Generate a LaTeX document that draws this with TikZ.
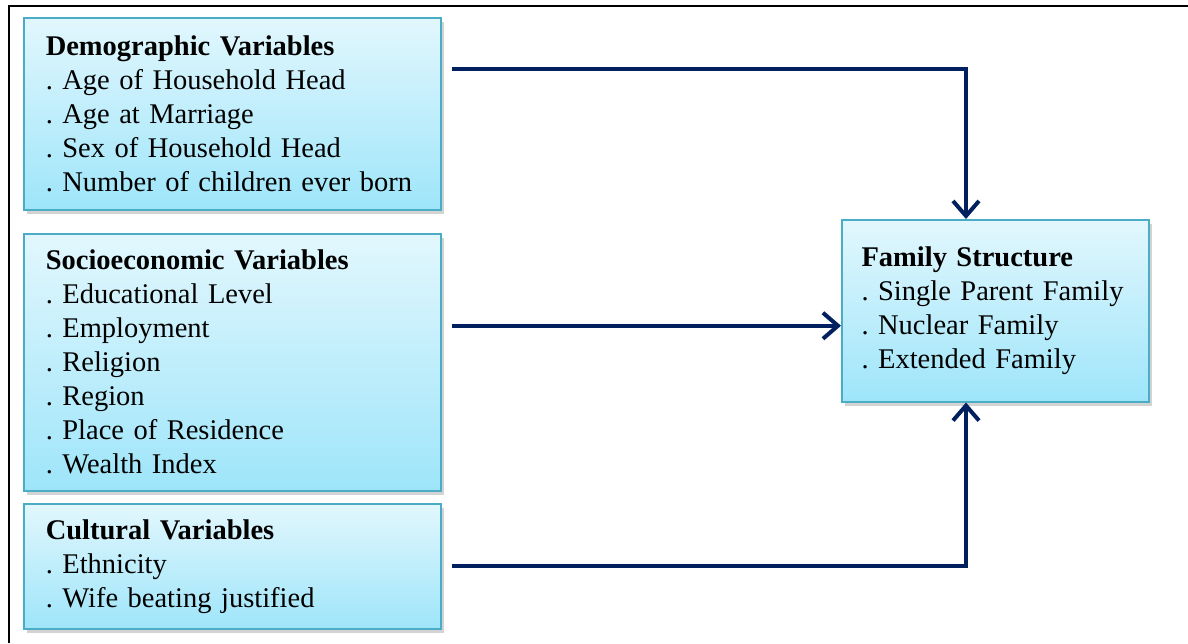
\documentclass[tikz,border=0pt]{standalone}
\usepackage{fontspec}
\setmainfont{Liberation Serif}
\usepackage{tikz}
\usetikzlibrary{arrows.meta}
\usetikzlibrary{shadows}
\usetikzlibrary{math}
\definecolor{boxtop}{RGB}{226,247,253}
\definecolor{boxbot}{RGB}{158,229,250}
\definecolor{boxline}{RGB}{75,172,198}
\definecolor{navy}{RGB}{0,32,96}
\newcommand{\boxfont}{\fontsize{11.4}{13.6}\selectfont\frenchspacing\hyphenpenalty=10000\relax}
\tikzstyle{varbox} = [anchor=north west, draw=boxline, line width=0.6pt, top color=boxtop, bottom color=boxbot, text width=149.2pt, inner xsep=8.8pt, inner ysep=0pt, align=left, font=\boxfont, drop shadow={shadow xshift=1.2pt, shadow yshift=-1.8pt, opacity=0.35}]
\tikzstyle{link} = [->, draw=navy, line width=1.6pt]

\begin{document}
\begin{tikzpicture}[x=0.4pt, y=-0.4pt, >={Straight Barb[length=6pt,width=10.4pt]}]

  \tikzmath{\fx = 841; \fy = 219;}

  \useasboundingbox (0,0) rectangle (1188,643);

  % frame
  \draw[line width=1pt] (9,643) -- (9,6) -- (1188,6);

  % left boxes
  \node[varbox, minimum height=76.8pt] (dem) at (23,17) {\textbf{Demographic Variables}\\. Age of Household Head\\. Age at Marriage\\. Sex of Household Head\\. Number of children ever born};
  \node[varbox, minimum height=102.8pt] (soc) at (23,233) {\textbf{Socioeconomic Variables}\\. Educational Level\\. Employment\\. Religion\\. Region\\. Place of Residence\\. Wealth Index};
  \node[varbox, minimum height=50pt] (cul) at (23,503) {\textbf{Cultural Variables}\\. Ethnicity\\. Wife beating justified};

  % right box
  \node[varbox, text width=107pt, inner xsep=7.9pt, minimum height=72.8pt] (fam) at (\fx,\fy) {\textbf{Family Structure}\\. Single Parent Family\\. Nuclear Family\\. Extended Family};

  % arrows
  \coordinate (dem out) at ([shift={(4pt,-20.8pt)}]dem.north east);
  \coordinate (soc out) at ([xshift=4pt]soc.east);
  \coordinate (cul out) at ([xshift=4pt]cul.east);
  \coordinate (fam in) at ([yshift=-6pt]fam.west);
  \draw[link] (dem out) -| ([xshift=50pt]fam.north west);
  \draw[link] (soc out |- fam in) -- (fam in);
  \draw[link] (cul out) -| ([xshift=50pt]fam.south west);

\end{tikzpicture}
\end{document}
